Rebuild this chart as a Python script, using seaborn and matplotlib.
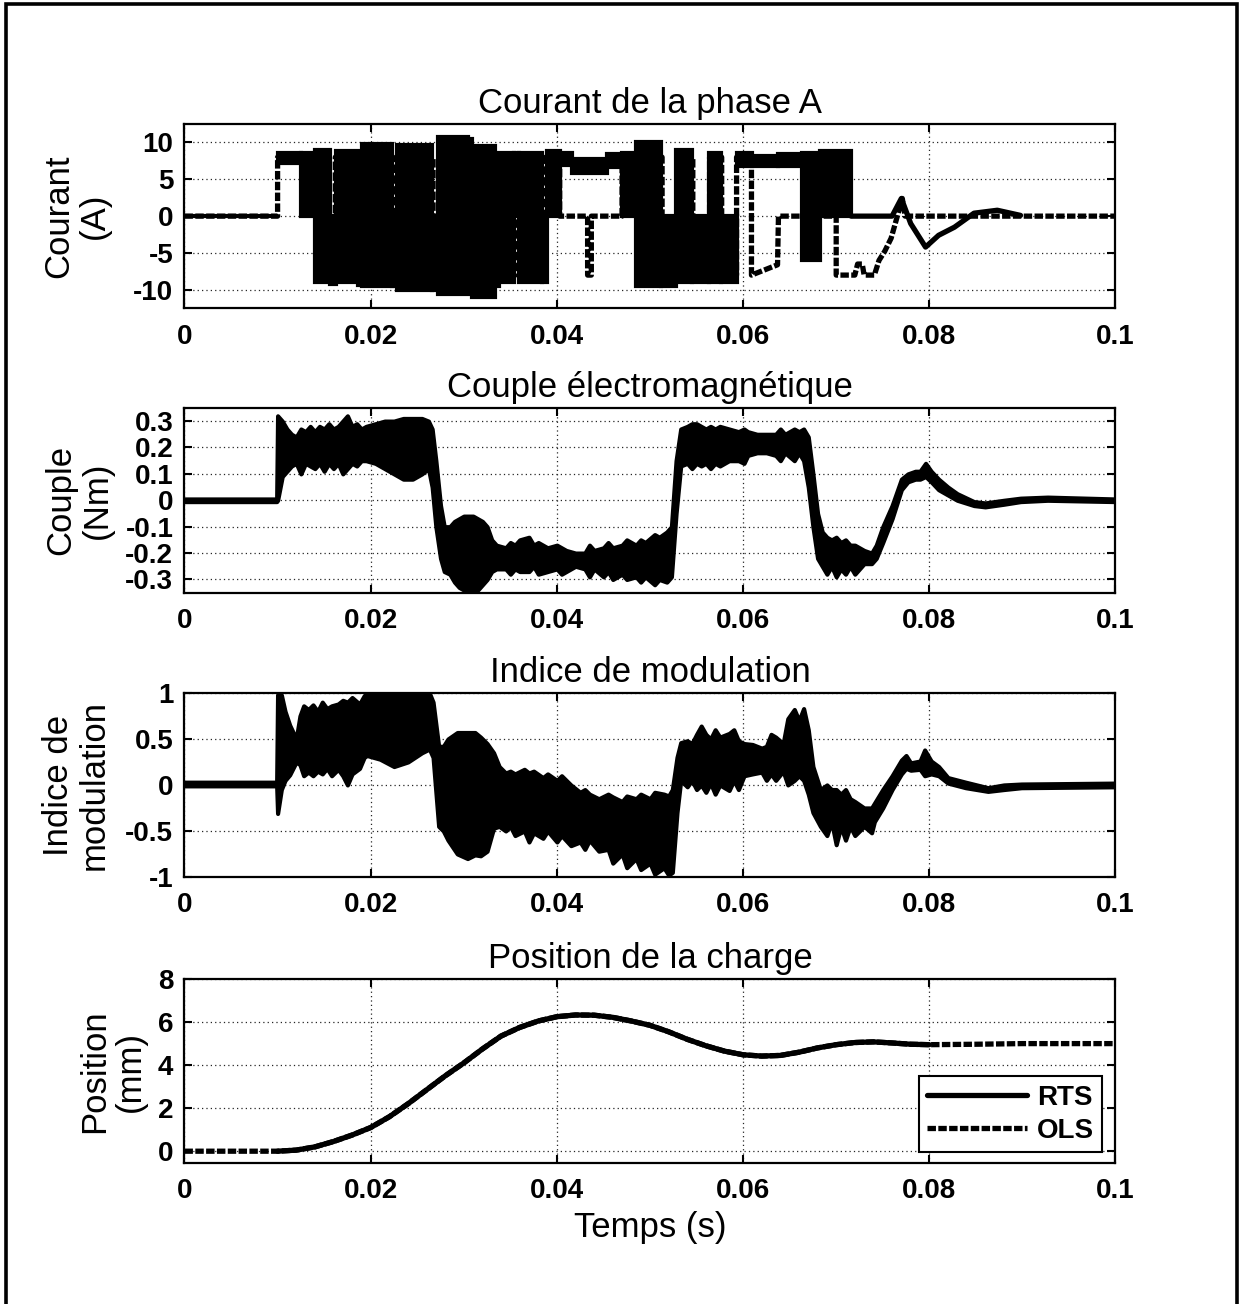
import numpy as np
import pandas as pd
import matplotlib
matplotlib.use("Agg")
import matplotlib.pyplot as plt
from matplotlib.patches import Rectangle
import seaborn as sns

# ---------------------------------------------------------------- data
# All times are in milliseconds.

# Phase A current, RTS: switching blocks (start, end, low, high) in A
cur_start = [0.0, 10.0, 12.5, 14.0, 15.6, 16.3, 18.6, 19.1, 22.3, 22.8, 26.6, 27.2,
             30.5, 30.9, 33.3, 33.8, 35.4, 35.9, 38.4, 38.9, 40.3, 41.6, 45.4, 47.0,
             48.5, 51.2, 52.8, 54.5, 56.3, 57.6, 59.3, 61.0, 63.8, 66.3, 68.3]
cur_end = [10.0, 12.5, 14.0, 15.6, 16.3, 18.6, 19.1, 22.3, 22.8, 26.6, 27.2, 30.5,
           30.9, 33.3, 33.8, 35.4, 35.9, 38.4, 38.9, 40.3, 41.6, 45.4, 47.0, 48.5,
           51.2, 52.8, 54.5, 56.3, 57.6, 59.3, 61.0, 63.8, 66.3, 68.3, 71.6]
cur_low = [0.0, 7.2, 0.0, -9.0, -9.2, -9.0, -9.3, -9.5, -9.5, -10.0, -10.0, -10.5,
           0.0, -11.0, -9.5, -9.0, 0.0, -9.0, -9.0, 0.0, 7.0, 5.8, 6.6, 0.0,
           -9.5, -9.5, -9.0, -9.0, -9.0, -9.0, 6.8, 6.8, 6.8, -6.0, 0.0]
cur_high = [0.0, 8.6, 8.6, 9.0, 0.0, 8.8, 0.0, 9.8, 0.0, 9.6, 0.0, 10.8,
            10.5, 9.5, 0.0, 8.5, 8.5, 8.5, 0.0, 8.8, 8.6, 7.8, 8.4, 8.6,
            10.0, 0.0, 9.0, 0.0, 8.5, 0.0, 8.5, 8.2, 8.4, 8.5, 8.8]

# RTS current after the last commutation
cur_tail_t = [71.6, 76.0, 77.0, 78.0, 79.6, 81.0, 82.7, 84.8, 87.3, 89.8]
cur_tail_v = [0.0, 0.0, 2.4, -1.0, -4.2, -2.6, -1.5, 0.4, 0.8, 0.1]

# Phase A current, OLS (ideal commutation)
ols_cur_t = [0.0, 10.0, 10.0, 14.5, 14.5, 16.2, 16.2, 18.7, 18.7, 19.4, 19.4, 22.4,
             22.4, 23.2, 23.2, 26.7, 26.7, 27.8, 27.8, 30.8, 30.8, 33.7, 33.7, 35.8,
             35.8, 38.8, 38.8, 40.3, 40.3, 43.3, 43.3, 43.7, 43.7, 47.0, 47.0, 51.3,
             51.3, 52.9, 52.9, 54.6, 54.6, 56.4, 56.4, 57.7, 57.7, 59.3, 59.3, 60.9,
             60.9, 63.7, 63.8, 66.3, 70.0, 70.0, 72.0, 72.3, 72.8, 73.0, 74.1, 74.6,
             75.2, 75.9, 77.1, 77.4, 100.0]
ols_cur_v = [0.0, 0.0, 8.0, 8.0, -8.0, -8.0, 8.0, 8.0, -8.0, -8.0, 8.0, 8.0,
             -8.0, -8.0, 8.0, 8.0, -8.0, -8.0, 8.0, 8.0, -8.0, -8.0, 8.0, 8.0,
             -8.0, -8.0, 8.0, 8.0, 0.0, 0.0, -8.0, -8.0, 0.0, 0.0, 8.0, 8.0,
             -8.0, -8.0, 8.0, 8.0, -8.0, -8.0, 8.0, 8.0, -8.0, -8.0, 8.0, 8.0,
             -8.0, -6.6, 0.0, 0.0, 0.0, -8.0, -8.0, -6.5, -6.5, -8.0, -8.0, -6.0,
             -4.8, -3.0, 2.4, 0.0, 0.0]

# Electromagnetic torque envelope (Nm)
torque_t = [0.0, 9.9, 10.0, 10.5, 11.0, 11.5, 12.0, 12.5, 13.0, 13.5, 14.0, 14.5,
            15.0, 15.5, 16.0, 16.5, 17.0, 17.5, 18.0, 18.5, 19.0, 19.5, 20.5, 21.5,
            22.5, 23.5, 24.5, 25.5, 26.2, 26.6, 27.0, 27.5, 27.9, 28.5, 29.0, 29.5,
            30.0, 30.5, 31.0, 31.5, 32.0, 32.5, 33.0, 33.5, 34.5, 35.0, 35.5, 36.0,
            37.0, 37.5, 38.0, 39.0, 40.0, 40.5, 41.0, 42.0, 43.0, 43.5, 44.0, 45.0,
            45.5, 46.0, 47.0, 47.5, 48.5, 49.0, 49.5, 50.5, 51.0, 51.8, 52.3, 52.8,
            53.3, 54.0, 54.5, 55.0, 55.5, 56.0, 56.5, 57.0, 57.5, 58.5, 59.5, 60.1,
            60.5, 61.5, 62.5, 63.5, 64.0, 64.5, 65.5, 66.0, 66.5, 67.0, 67.5, 68.0,
            68.5, 69.0, 69.5, 70.0, 70.5, 71.0, 71.5, 72.0, 73.0, 73.8, 74.3, 75.0,
            76.0, 77.0, 77.7, 78.5, 79.0, 79.6, 80.2, 81.0, 82.0, 83.0, 84.8, 86.0,
            88.0, 89.8, 92.7, 100.0]
torque_low = [-0.005, -0.005, 0.0, 0.09, 0.11, 0.13, 0.14, 0.10, 0.14, 0.13, 0.12, 0.14,
              0.11, 0.14, 0.12, 0.14, 0.10, 0.12, 0.14, 0.13, 0.15, 0.15, 0.14, 0.12,
              0.10, 0.08, 0.08, 0.10, 0.12, 0.05, -0.10, -0.22, -0.27, -0.28, -0.31, -0.33,
              -0.34, -0.35, -0.35, -0.34, -0.32, -0.30, -0.27, -0.26, -0.26, -0.28, -0.26, -0.27,
              -0.27, -0.25, -0.28, -0.27, -0.26, -0.28, -0.27, -0.25, -0.26, -0.29, -0.26, -0.29,
              -0.27, -0.30, -0.28, -0.30, -0.29, -0.31, -0.29, -0.32, -0.30, -0.31, -0.29, -0.05,
              0.13, 0.14, 0.12, 0.14, 0.13, 0.14, 0.12, 0.14, 0.13, 0.15, 0.15, 0.14,
              0.17, 0.18, 0.18, 0.17, 0.15, 0.18, 0.15, 0.18, 0.15, 0.05, -0.10, -0.22,
              -0.25, -0.28, -0.25, -0.29, -0.26, -0.28, -0.25, -0.28, -0.24, -0.24, -0.22, -0.16,
              -0.07, 0.04, 0.07, 0.08, 0.08, 0.09, 0.07, 0.04, 0.02, 0.0, -0.02, -0.025,
              -0.015, -0.005, 0.0, -0.005]
torque_high = [0.005, 0.005, 0.32, 0.30, 0.27, 0.25, 0.24, 0.27, 0.26, 0.28, 0.26, 0.28,
               0.27, 0.29, 0.27, 0.28, 0.30, 0.32, 0.28, 0.29, 0.27, 0.28, 0.29, 0.30,
               0.30, 0.31, 0.31, 0.31, 0.30, 0.27, 0.15, -0.02, -0.10, -0.10, -0.08, -0.07,
               -0.06, -0.06, -0.06, -0.07, -0.08, -0.10, -0.15, -0.17, -0.18, -0.16, -0.17, -0.15,
               -0.14, -0.17, -0.16, -0.18, -0.17, -0.18, -0.19, -0.20, -0.20, -0.17, -0.19, -0.18,
               -0.16, -0.18, -0.17, -0.15, -0.17, -0.15, -0.16, -0.13, -0.14, -0.12, -0.10, 0.15,
               0.27, 0.28, 0.29, 0.29, 0.28, 0.27, 0.28, 0.27, 0.28, 0.27, 0.26, 0.27,
               0.26, 0.25, 0.25, 0.25, 0.27, 0.25, 0.27, 0.26, 0.27, 0.24, 0.10, -0.05,
               -0.12, -0.14, -0.15, -0.14, -0.16, -0.15, -0.17, -0.17, -0.19, -0.20, -0.17, -0.10,
               -0.02, 0.08, 0.10, 0.11, 0.11, 0.14, 0.11, 0.08, 0.05, 0.025, -0.005, -0.01,
               0.0, 0.008, 0.012, 0.005]

# Modulation index envelope
mod_t = [0.0, 9.9, 10.0, 10.4, 10.8, 11.3, 12.0, 12.4, 12.8, 13.3, 13.8, 14.3,
         14.8, 15.3, 15.8, 16.5, 17.0, 17.5, 18.0, 18.8, 19.3, 19.6, 21.0, 22.5,
         24.0, 25.5, 26.3, 26.7, 27.3, 27.8, 28.3, 29.3, 30.4, 31.2, 31.8, 32.5,
         33.2, 33.8, 34.5, 35.0, 35.5, 36.5, 37.0, 37.5, 38.5, 39.0, 40.0, 40.5,
         41.5, 42.5, 43.0, 43.5, 44.5, 45.5, 46.0, 47.0, 47.5, 48.5, 49.0, 50.0,
         50.5, 51.5, 52.0, 52.4, 52.9, 53.3, 54.0, 54.5, 55.0, 55.5, 56.0, 56.5,
         57.0, 57.5, 58.5, 59.0, 59.5, 60.1, 61.0, 62.0, 62.5, 63.0, 63.5, 64.3,
         64.8, 65.5, 66.0, 66.5, 67.0, 67.5, 68.3, 69.0, 69.5, 70.0, 70.5, 71.0,
         71.5, 72.0, 73.0, 73.8, 74.1, 75.0, 76.0, 77.0, 77.5, 78.0, 79.0, 79.5,
         80.2, 81.0, 82.0, 83.9, 86.3, 88.0, 89.9, 100.0]
mod_low = [-0.01, -0.01, -0.31, -0.05, 0.05, 0.11, 0.25, 0.22, 0.10, 0.14, 0.10, 0.15,
           0.12, 0.18, 0.10, 0.17, 0.10, 0.0, 0.12, 0.18, 0.30, 0.32, 0.28, 0.20,
           0.25, 0.35, 0.39, 0.30, -0.45, -0.50, -0.60, -0.75, -0.80, -0.76, -0.77, -0.72,
           -0.47, -0.45, -0.50, -0.45, -0.55, -0.50, -0.62, -0.52, -0.58, -0.50, -0.62, -0.55,
           -0.66, -0.62, -0.70, -0.60, -0.72, -0.70, -0.85, -0.75, -0.90, -0.80, -0.92, -0.85,
           -0.97, -0.90, -0.98, -0.95, -0.30, 0.05, -0.02, 0.05, -0.05, 0.0, -0.08, 0.02,
           -0.10, 0.0, -0.06, 0.05, -0.05, 0.10, 0.12, 0.14, 0.05, 0.12, 0.05, 0.15,
           0.0, 0.05, 0.10, 0.05, -0.10, -0.30, -0.45, -0.55, -0.40, -0.65, -0.45, -0.60,
           -0.45, -0.55, -0.45, -0.52, -0.40, -0.25, -0.05, 0.12, 0.18, 0.16, 0.17, 0.10,
           0.12, 0.10, 0.02, -0.03, -0.07, -0.05, -0.03, -0.02]
mod_high = [0.03, 0.03, 0.98, 0.98, 0.80, 0.65, 0.50, 0.75, 0.86, 0.82, 0.87, 0.80,
            0.90, 0.83, 0.86, 0.88, 0.92, 0.90, 0.95, 0.88, 0.97, 1.0, 1.0, 1.0,
            1.0, 1.0, 1.0, 0.90, 0.42, 0.42, 0.50, 0.57, 0.57, 0.57, 0.52, 0.45,
            0.35, 0.20, 0.13, 0.15, 0.12, 0.17, 0.13, 0.15, 0.08, 0.12, 0.05, 0.10,
            0.0, -0.08, -0.05, -0.10, -0.15, -0.10, -0.13, -0.18, -0.12, -0.15, -0.10, -0.15,
            -0.08, -0.10, -0.12, -0.05, 0.30, 0.46, 0.48, 0.45, 0.55, 0.64, 0.55, 0.50,
            0.60, 0.52, 0.56, 0.60, 0.48, 0.45, 0.44, 0.40, 0.42, 0.55, 0.52, 0.45,
            0.72, 0.82, 0.70, 0.83, 0.60, 0.20, -0.05, 0.0, -0.05, -0.05, -0.10, -0.05,
            -0.15, -0.18, -0.25, -0.25, -0.20, -0.05, 0.10, 0.27, 0.32, 0.24, 0.26, 0.38,
            0.26, 0.20, 0.08, 0.03, -0.03, 0.0, 0.01, 0.02]

# Load position (mm)
pos_t = [10, 12, 14, 16, 18, 20, 22, 24, 26, 28, 30, 32, 34, 36, 38, 40, 42, 44,
         46, 48, 50, 52, 54, 56, 58, 60, 62, 64, 66, 68, 70, 72, 74, 76, 78, 80]
pos_rts = [0.0, 0.05, 0.2, 0.45, 0.75, 1.1, 1.6, 2.2, 2.85, 3.5, 4.1, 4.75, 5.35, 5.75,
           6.05, 6.25, 6.33, 6.32, 6.22, 6.05, 5.85, 5.55, 5.2, 4.9, 4.65, 4.48, 4.42,
           4.45, 4.6, 4.8, 4.95, 5.05, 5.08, 5.03, 4.97, 4.95]
pos_ols_t = [0, 10, 12, 14, 16, 18, 20, 22, 24, 26, 28, 30, 32, 34, 36, 38, 40, 42, 44,
             46, 48, 50, 52, 54, 56, 58, 60, 62, 64, 66, 68, 70, 72, 74, 76, 78, 80,
             85, 90, 100]
pos_ols = [0.0, 0.0, 0.05, 0.2, 0.45, 0.75, 1.1, 1.6, 2.2, 2.85, 3.5, 4.1, 4.75, 5.35,
           5.75, 6.05, 6.25, 6.33, 6.32, 6.22, 6.05, 5.85, 5.55, 5.2, 4.9, 4.65, 4.48,
           4.42, 4.45, 4.6, 4.8, 4.95, 5.05, 5.08, 5.03, 4.97, 4.95, 4.97, 5.0, 5.0]

# ---------------------------------------------------------------- style
sns.set_theme(style="ticks")
plt.rcParams["font.family"] = ["Liberation Sans", "DejaVu Sans"]
plt.rcParams.update({
    "axes.linewidth": 1.6,
    "axes.edgecolor": "black",
    "axes.labelcolor": "black",
    "text.color": "black",
    "xtick.direction": "in",
    "ytick.direction": "in",
    "xtick.color": "black",
    "ytick.color": "black",
})

LW = 3.8
DOT = (0, (1.6, 0.45))
TICK_FS = 20
TITLE_FS = 25

fig = plt.figure(figsize=(12.44, 13.04), dpi=100)
fig.patches.append(Rectangle((0.0045, -0.02), 0.9895, 1.017, transform=fig.transFigure,
                             fill=False, edgecolor="black", linewidth=2.6))

L, W = 0.1483, 0.7484
rects = [(L, 0.7636, W, 0.1413), (L, 0.5455, W, 0.1417),
         (L, 0.3275, W, 0.1411), (L, 0.1081, W, 0.1411)]
axes = [fig.add_axes(r) for r in rects]

xt = [0, 0.02, 0.04, 0.06, 0.08, 0.1]
xl = ["0", "0.02", "0.04", "0.06", "0.08", "0.1"]


def style(ax, title, ylabel, yticks, ylabels, ylim, label_x):
    ax.set_xlim(0, 0.1)
    ax.set_ylim(*ylim)
    ax.set_xticks(xt)
    ax.set_xticklabels(xl, fontsize=TICK_FS, fontweight="bold", color="black")
    ax.set_yticks(yticks)
    ax.set_yticklabels(ylabels, fontsize=TICK_FS, fontweight="bold", color="black")
    ax.tick_params(axis="both", direction="in", length=6, width=1.5,
                   top=True, right=True, pad=8)
    ax.tick_params(axis="x", pad=11)
    ax.grid(True, color="0.15", linestyle=(0, (1, 2.5)), linewidth=0.9)
    ax.set_axisbelow(True)
    for s in ax.spines.values():
        s.set_visible(True)
        s.set_linewidth(1.6)
        s.set_zorder(6)
    ax.set_title(title, fontsize=TITLE_FS, pad=8, color="black")
    ax.set_ylabel(ylabel, fontsize=TITLE_FS, linespacing=1.12, color="black")
    ax.yaxis.set_label_coords(label_x, 0.5)
    ax.set_xlabel("")


ms = lambda a: np.asarray(a, dtype=float) / 1000.0

# ---- panel 1: phase A current
ax = axes[0]
sns.lineplot(x=ms(ols_cur_t), y=ols_cur_v, ax=ax, color="black", lw=LW,
             linestyle=DOT, sort=False, estimator=None, zorder=2)
cs, ce = ms(cur_start), ms(cur_end)
ax.bar(cs, np.array(cur_high) - np.array(cur_low), width=ce - cs, bottom=cur_low,
       align="edge", color="black", edgecolor="black", linewidth=3.0, zorder=3)
sns.lineplot(x=ms(cur_tail_t), y=cur_tail_v, ax=ax, color="black", lw=LW,
             sort=False, estimator=None, zorder=3)
style(ax, "Courant de la phase A", "Courant\n(A)", [-10, -5, 0, 5, 10],
      ["-10", "-5", "0", "5", "10"], (-12.5, 12.5), -0.079)

# ---- panel 2: electromagnetic torque
ax = axes[1]
ax.fill_between(ms(torque_t), torque_low, torque_high, color="black",
                edgecolor="black", linewidth=3.0, zorder=3)
style(ax, "Couple électromagnétique", "Couple\n(Nm)",
      [-0.3, -0.2, -0.1, 0, 0.1, 0.2, 0.3],
      ["-0.3", "-0.2", "-0.1", "0", "0.1", "0.2", "0.3"], (-0.35, 0.35), -0.076)

# ---- panel 3: modulation index
ax = axes[2]
ax.fill_between(ms(mod_t), mod_low, mod_high, color="black",
                edgecolor="black", linewidth=3.0, zorder=3)
style(ax, "Indice de modulation", "Indice de\nmodulation", [-1, -0.5, 0, 0.5, 1],
      ["-1", "-0.5", "0", "0.5", "1"], (-1, 1), -0.079)

# ---- panel 4: load position
ax = axes[3]
sns.lineplot(x=ms(pos_t), y=pos_rts, ax=ax, color="black", lw=LW,
             sort=False, estimator=None, zorder=4, label="RTS")
sns.lineplot(x=ms(pos_ols_t), y=pos_ols, ax=ax, color="black", lw=LW,
             linestyle=DOT, sort=False, estimator=None, zorder=3, label="OLS")
style(ax, "Position de la charge", "Position\n(mm)", [0, 2, 4, 6, 8],
      ["0", "2", "4", "6", "8"], (-0.55, 8), -0.040)
ax.set_xlabel("Temps (s)", fontsize=TITLE_FS, labelpad=5, color="black")
leg = ax.legend(loc="lower right", bbox_to_anchor=(0.986, 0.06),
                prop={"weight": "bold", "size": TICK_FS}, frameon=True, fancybox=False,
                edgecolor="black", framealpha=1, handlelength=3.6, handletextpad=0.35,
                labelspacing=0.25, borderpad=0.3, borderaxespad=0)
leg.get_frame().set_linewidth(1.5)
leg.set_zorder(10)
for txt in leg.get_texts():
    txt.set_color("black")

fig.savefig("out.png", dpi=100, facecolor="white")
